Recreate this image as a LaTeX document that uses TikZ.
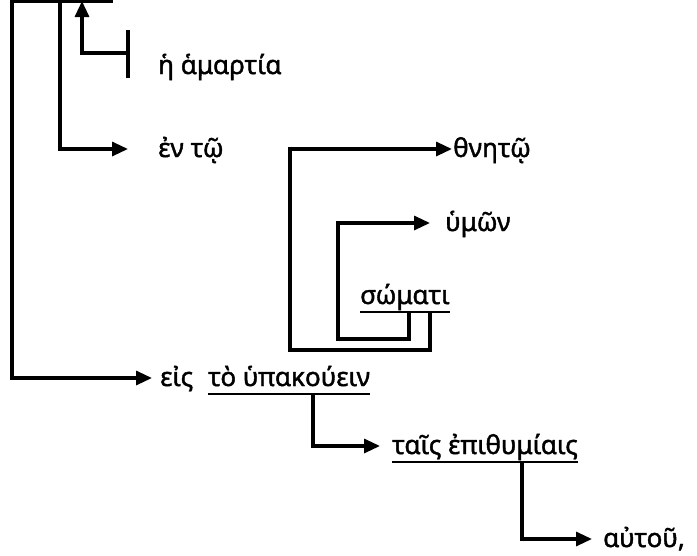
\documentclass[tikz,border=0pt]{standalone}
\usepackage{fontspec}
\setmainfont{Noto Sans}
\newfontfamily\wordfont{Noto Sans}[FakeBold=1.6]
\usetikzlibrary{arrows.meta}

\begin{document}
\begin{tikzpicture}[x=1pt,y=-1pt,
  line/.style={line width=3.2pt},
  arr/.style={line,-{Triangle[length=16pt,width=14pt]}},
  word/.style={font=\fontsize{26}{31}\selectfont\wordfont,inner sep=0pt,anchor=base west}]
\useasboundingbox (0,0) rectangle (697,555);
\node[word] (sin) at (158,74) {ἡ ἁμαρτία};
\node[word] (en) at (158,157) {ἐν τῷ};
\node[word] (thn) at (453,157) {θνητῷ};
\node[word] (hum) at (445,231) {ὑμῶν};
\node[word] (som) at (360,304) {σώματι};
\node[word] (eis) at (160,386) {εἰς};
\node[word] (inf) at (208,386) {τὸ ὑπακούειν};
\node[word] (epi) at (392,454) {ταῖς ἐπιθυμίαις};
\node[word] (aut) at (603,547) {αὐτοῦ,};
\foreach \n in {som,inf,epi} {
  \draw[line,line width=2.2pt] ([yshift=-8pt]\n.base west) -- ([yshift=-8pt]\n.base east); }
\draw[line] (10,1) -- (113,1);
\draw[line] ([xshift=-30pt,yshift=-4pt]sin.base west) -- ++(0,-48);
\draw[arr] ([xshift=-30pt,yshift=21pt]sin.base west) -| (82,1);
\draw[arr,shorten >=30pt] (60,0) |- ([yshift=8pt]en.base west);
\draw[arr,shorten >=8pt] (12,0) |- ([yshift=8pt]eis.base west);
\draw[arr,shorten >=1pt] ([xshift=70pt,yshift=-8pt]som.base west) |- (290,350)
  |- ([yshift=8pt]thn.base west);
\draw[arr,shorten >=15pt] ([xshift=49pt,yshift=-8pt]som.base west) |- (338,339)
  |- ([yshift=8pt]hum.base west);
\draw[arr,shorten >=12pt] ([xshift=105pt,yshift=-8pt]inf.base west) |- ([yshift=8pt]epi.base west);
\draw[arr,shorten >=11pt] ([xshift=130pt,yshift=-8pt]epi.base west) |- ([yshift=8pt]aut.base west);
\end{tikzpicture}
\end{document}
